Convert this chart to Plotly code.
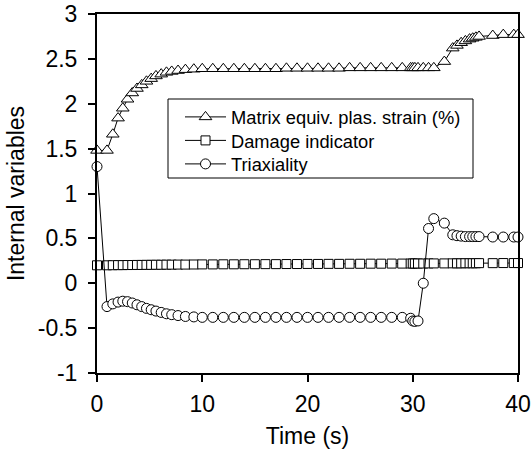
import plotly.graph_objects as go

# Simulation output times (s), shared by all three internal variables
time_s = [0, 0.95, 1.5, 2.0, 2.45, 2.9, 3.35, 3.8, 4.25, 4.7, 5.15, 5.6, 6.1, 6.6,
          7.1, 7.7, 8.4, 9.2, 10, 11, 12, 13, 14, 15, 16, 17, 18, 19, 20, 21, 22,
          23, 24, 25, 26, 27, 28, 29, 29.8, 30.0, 30.2, 30.5, 31.0, 31.5, 32.0,
          33.0, 33.8, 34.2, 34.6, 35.0, 35.4, 35.7, 36.0, 36.3, 37.6, 38.6, 39.6,
          40.0]

# Matrix equivalent plastic strain (%)
plastic_strain = [1.48, 1.48, 1.66, 1.84, 1.95, 2.05, 2.12, 2.17, 2.21, 2.25, 2.28,
                  2.31, 2.33, 2.35, 2.36, 2.37, 2.38, 2.385, 2.39, 2.39, 2.39, 2.39,
                  2.39, 2.39, 2.39, 2.39, 2.395, 2.395, 2.395, 2.395, 2.395, 2.395,
                  2.40, 2.40, 2.40, 2.40, 2.40, 2.40, 2.40, 2.40, 2.40, 2.40, 2.40,
                  2.40, 2.40, 2.47, 2.62, 2.65, 2.68, 2.70, 2.72, 2.73, 2.74, 2.75,
                  2.76, 2.77, 2.77, 2.77]

# Damage indicator
damage = [0.200, 0.200, 0.201, 0.202, 0.202, 0.203, 0.203, 0.204, 0.204, 0.205,
          0.205, 0.206, 0.206, 0.207, 0.207, 0.208, 0.208, 0.209, 0.210, 0.210,
          0.211, 0.211, 0.212, 0.212, 0.213, 0.213, 0.214, 0.214, 0.215, 0.215,
          0.216, 0.216, 0.217, 0.217, 0.218, 0.218, 0.219, 0.219, 0.220, 0.220,
          0.220, 0.220, 0.220, 0.221, 0.221, 0.221, 0.222, 0.222, 0.222, 0.223,
          0.223, 0.223, 0.223, 0.224, 0.224, 0.225, 0.225, 0.225]

# Stress triaxiality
triaxiality = [1.30, -0.26, -0.23, -0.21, -0.20, -0.205, -0.22, -0.24, -0.26, -0.28,
               -0.295, -0.31, -0.325, -0.34, -0.35, -0.36, -0.37, -0.375, -0.38,
               -0.38, -0.38, -0.38, -0.38, -0.38, -0.38, -0.38, -0.38, -0.38, -0.38,
               -0.38, -0.38, -0.38, -0.38, -0.38, -0.38, -0.38, -0.38, -0.38, -0.39,
               -0.42, -0.425, -0.42, 0.0, 0.61, 0.72, 0.67, 0.54, 0.53, 0.525, 0.52,
               0.52, 0.52, 0.52, 0.52, 0.515, 0.515, 0.515, 0.515]

series_names = ["Matrix equiv. plas. strain (%)", "Damage indicator", "Triaxiality"]

x_ticks = [0, 10, 20, 30, 40]
x_tick_labels = ["0", "10", "20", "30", "40"]
y_ticks = [-1, -0.5, 0, 0.5, 1, 1.5, 2, 2.5, 3]
y_tick_labels = ["-1", "-0.5", "0", "0.5", "1", "1.5", "2", "2.5", "3"]

FONT = "Liberation Sans, Arial, sans-serif"
W, H = 532, 450
M_L, M_R, M_T, M_B = 97, 14, 14, 77
PW, PH = W - M_L - M_R, H - M_T - M_B


def px_x(px):
    """Pixel column -> paper x."""
    return (px - M_L) / PW


def px_y(py):
    """Pixel row -> paper y."""
    return (H - M_B - py) / PH


fig = go.Figure()

styles = [("triangle-up", 11), ("square", 9), ("circle", 10)]
legend_ids = ["legend", "legend2", "legend3"]
for name, values, (symbol, size), lg in zip(series_names,
                                            [plastic_strain, damage, triaxiality],
                                            styles, legend_ids):
    fig.add_trace(go.Scatter(
        x=time_s, y=values, name=name, mode="lines+markers",
        line=dict(color="black", width=1),
        marker=dict(symbol=symbol, size=size, color="white",
                    line=dict(color="black", width=1)),
        cliponaxis=False, legend=lg, showlegend=True,
    ))

axis_common = dict(
    showline=True, linecolor="black", linewidth=2, mirror=True,
    ticks="outside", ticklen=7, tickwidth=1.5, tickcolor="black",
    showgrid=False, zeroline=False, automargin=False,
    tickfont=dict(family=FONT, size=23, color="black"),
)

fig.update_xaxes(
    range=[0, 40], tickvals=x_ticks, ticktext=x_tick_labels,
    ticklabelstandoff=2,
    title=dict(text="Time (s)", font=dict(family=FONT, size=23, color="black"),
               standoff=12),
    **axis_common,
)
fig.update_yaxes(
    range=[-1, 3], tickvals=y_ticks, ticktext=y_tick_labels,
    ticklabelstandoff=6,
    title=dict(text="Internal variables", font=dict(family=FONT, size=23, color="black"),
               standoff=7),
    **axis_common,
)

# One legend per entry so the rows sit at a fixed spacing inside one frame
legend_rows = [117, 140.5, 164]
legend_common = dict(
    xanchor="left", yanchor="middle", bgcolor="rgba(0,0,0,0)", borderwidth=0,
    itemwidth=41, font=dict(family=FONT, size=18.3, color="black"),
)
layout_legends = {}
for lg, row in zip(legend_ids, legend_rows):
    layout_legends[lg] = dict(x=px_x(180), y=px_y(row), **legend_common)

fig.update_layout(
    width=W, height=H,
    margin=dict(l=M_L, r=M_R, t=M_T, b=M_B),
    paper_bgcolor="white", plot_bgcolor="white",
    font=dict(family=FONT, color="black"),
    showlegend=True,
    shapes=[dict(type="rect", xref="paper", yref="paper",
                 x0=px_x(168), x1=px_x(473), y0=px_y(178), y1=px_y(99),
                 line=dict(color="black", width=1), fillcolor="white",
                 layer="below")],
    **layout_legends,
)

fig.write_html("out.html")
